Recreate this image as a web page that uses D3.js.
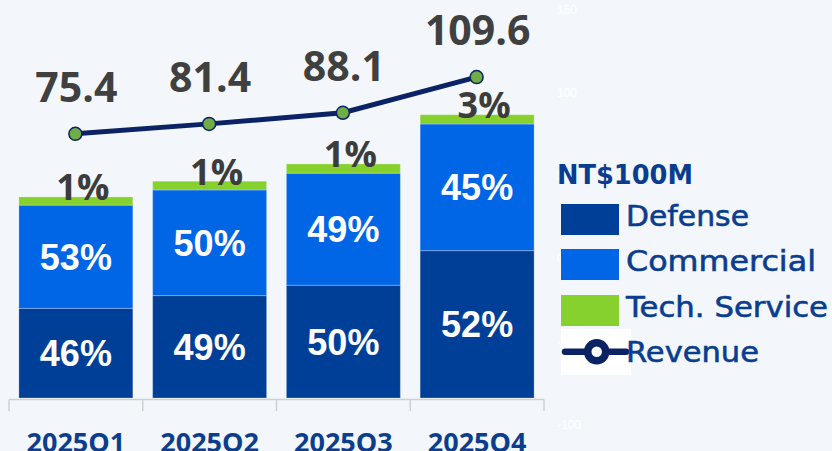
<!DOCTYPE html>
<html><head><meta charset="utf-8">
<script src="https://cdn.jsdelivr.net/npm/d3@7"></script>
<style>html,body{margin:0;padding:0;background:#f3f7fb;}svg{display:block;}</style>
</head><body>
<svg id="chart" width="832" height="451"></svg>
<script>
const quarters = ["2025Q1", "2025Q2", "2025Q3", "2025Q4"];
const defense = [33.7, 38.5, 42.4, 55.4];
const commercial = [38.8, 39.7, 42.1, 47.6];
const techService = [3.1, 3.3, 3.5, 3.5];
const revenue = [75.4, 81.4, 88.1, 109.6];
const defensePct = ["46%", "49%", "50%", "52%"];
const commercialPct = ["53%", "50%", "49%", "45%"];
const techPct = ["1%", "1%", "1%", "3%"];
const rightTicks = [-100, -50, 0, 50, 100, 150];
const legendItems = ["Defense", "Commercial", "Tech. Service"];
const legendTitle = "NT$100M";

const colors = { def: "#003f97", com: "#0066e6", tech: "#87d12e", line: "#0b2264", dot: "#70ad47" };

const svg = d3.select("#chart");
svg.append("rect").attr("width", 832).attr("height", 451).attr("fill", "#f3f7fb");

const x = d3.scaleBand().domain(quarters).range([9, 544]).paddingInner(0.148).paddingOuter(0.074);
const yBar = d3.scaleLinear().domain([0, 150]).range([398, -1]);
const yLine = d3.scaleLinear().domain([-100, 150]).range([425, 10]);

// faint right axis labels
svg.append("g").selectAll("text").data(rightTicks).join("text")
  .attr("x", 557).attr("y", d => yLine(d)).attr("dy", "0.35em")
  .attr("font-family", "Liberation Sans, Arial, sans-serif").attr("font-size", 12)
  .attr("fill", "#ffffff").text(d => d);

// stacked data
const rows = quarters.map((q, i) => ({ q, def: defense[i], com: commercial[i], tech: techService[i] }));
const stack = d3.stack().keys(["def", "com", "tech"])(rows);
const segLabels = { def: defensePct, com: commercialPct };

const gBars = svg.append("g");
stack.forEach(layer => {
  gBars.append("g").selectAll("rect").data(layer).join("rect")
    .attr("x", d => x(d.data.q)).attr("width", x.bandwidth())
    .attr("y", d => yBar(d[1])).attr("height", d => yBar(d[0]) - yBar(d[1]))
    .attr("fill", colors[layer.key])
    .attr("stroke", "rgba(255,255,255,0.25)").attr("stroke-width", 1);
});

// white percentage labels
["def", "com"].forEach((k, li) => {
  svg.append("g").selectAll("text").data(stack[li]).join("text")
    .attr("x", d => x(d.data.q) + x.bandwidth() / 2)
    .attr("y", d => (yBar(d[0]) + yBar(d[1])) / 2).attr("dy", "0.36em")
    .attr("text-anchor", "middle")
    .attr("font-family", "Liberation Sans, Arial, sans-serif").attr("font-weight", "bold")
    .attr("font-size", 36).attr("fill", "#ffffff")
    .text((d, i) => segLabels[k][i]);
});

// tech labels
svg.append("g").selectAll("text").data(stack[2]).join("text")
  .attr("x", d => x(d.data.q) + x.bandwidth() / 2 + 7)
  .attr("y", d => yBar(d[1]) + 3.5)
  .attr("text-anchor", "middle")
  .attr("font-family", "Open Sans, sans-serif").attr("font-weight", "bold")
  .attr("font-size", 36).attr("fill", "#3c3c3c")
  .text((d, i) => techPct[i]);

// axis
const gAxis = svg.append("g");
gAxis.append("line").attr("x1", x.range()[0]).attr("x2", x.range()[1]).attr("y1", 399.5).attr("y2", 399.5)
  .attr("stroke", "#d0d0d0").attr("stroke-width", 1.5);
const bounds = quarters.map(q => x(q) - x.step() * x.paddingInner() / 2).concat([x.range()[1]]);
gAxis.selectAll("line.tk").data(bounds).join("line").attr("class", "tk")
  .attr("x1", d => d).attr("x2", d => d).attr("y1", 399.5).attr("y2", 411)
  .attr("stroke", "#d0d0d0").attr("stroke-width", 1.5);
gAxis.selectAll("text").data(quarters).join("text")
  .attr("x", d => x(d) + x.bandwidth() / 2).attr("y", 452)
  .attr("text-anchor", "middle")
  .attr("font-family", "Open Sans, sans-serif").attr("font-weight", "bold")
  .attr("font-size", 27).attr("fill", "#0d3d8d").text(d => d);

// revenue line
const cx = q => x(q) + x.bandwidth() / 2 - 0.5;
const line = d3.line().x((d, i) => cx(quarters[i])).y(d => yLine(d));
svg.append("path").datum(revenue).attr("d", line)
  .attr("fill", "none").attr("stroke", colors.line).attr("stroke-width", 5);
svg.append("g").selectAll("circle").data(revenue).join("circle")
  .attr("cx", (d, i) => cx(quarters[i])).attr("cy", d => yLine(d)).attr("r", 6.5)
  .attr("fill", colors.dot).attr("stroke", colors.line).attr("stroke-width", 1.5);
svg.append("g").selectAll("text").data(revenue).join("text")
  .attr("x", (d, i) => cx(quarters[i]) + 1).attr("y", d => yLine(d) - 32)
  .attr("text-anchor", "middle")
  .attr("font-family", "Open Sans, sans-serif").attr("font-weight", "bold")
  .attr("font-size", 41).attr("fill", "#404040").text(d => d.toFixed(1));

// legend
const lg = svg.append("g");
const lgColor = "#0a3d8f";
lg.append("text").attr("x", 557).attr("y", 184)
  .attr("font-family", "DejaVu Sans, Verdana, sans-serif").attr("font-weight", "bold")
  .attr("font-size", 27).attr("fill", lgColor)
  .attr("textLength", 136).attr("lengthAdjust", "spacingAndGlyphs").text(legendTitle);
const legendColors = [colors.def, colors.com, colors.tech];
const rectY = [204, 249, 295];
const textY = [226, 270.7, 316.7];
const textW = [123, 190, 202];
legendItems.forEach((t, i) => {
  lg.append("rect").attr("x", 561).attr("y", rectY[i]).attr("width", 58).attr("height", 31).attr("fill", legendColors[i]);
  lg.append("text").attr("x", 626).attr("y", textY[i])
    .attr("font-family", "DejaVu Sans, Verdana, sans-serif").attr("font-size", 28.5).attr("fill", lgColor)
    .attr("stroke", lgColor).attr("stroke-width", 0.6)
    .attr("textLength", textW[i]).attr("lengthAdjust", "spacingAndGlyphs").text(t);
});
lg.append("rect").attr("x", 561).attr("y", 329).attr("width", 70).attr("height", 46).attr("fill", "#ffffff");
lg.append("line").attr("x1", 565).attr("x2", 626).attr("y1", 351.7).attr("y2", 351.7)
  .attr("stroke", colors.line).attr("stroke-width", 6.5).attr("stroke-linecap", "round");
lg.append("circle").attr("cx", 596.7).attr("cy", 351.7).attr("r", 9)
  .attr("fill", "#ffffff").attr("stroke", colors.line).attr("stroke-width", 7.5);
lg.append("text").attr("x", 626).attr("y", 361.7)
  .attr("font-family", "DejaVu Sans, Verdana, sans-serif").attr("font-size", 28.5).attr("fill", lgColor)
  .attr("stroke", lgColor).attr("stroke-width", 0.6)
  .attr("textLength", 133).attr("lengthAdjust", "spacingAndGlyphs").text("Revenue");
</script>
</body></html>
